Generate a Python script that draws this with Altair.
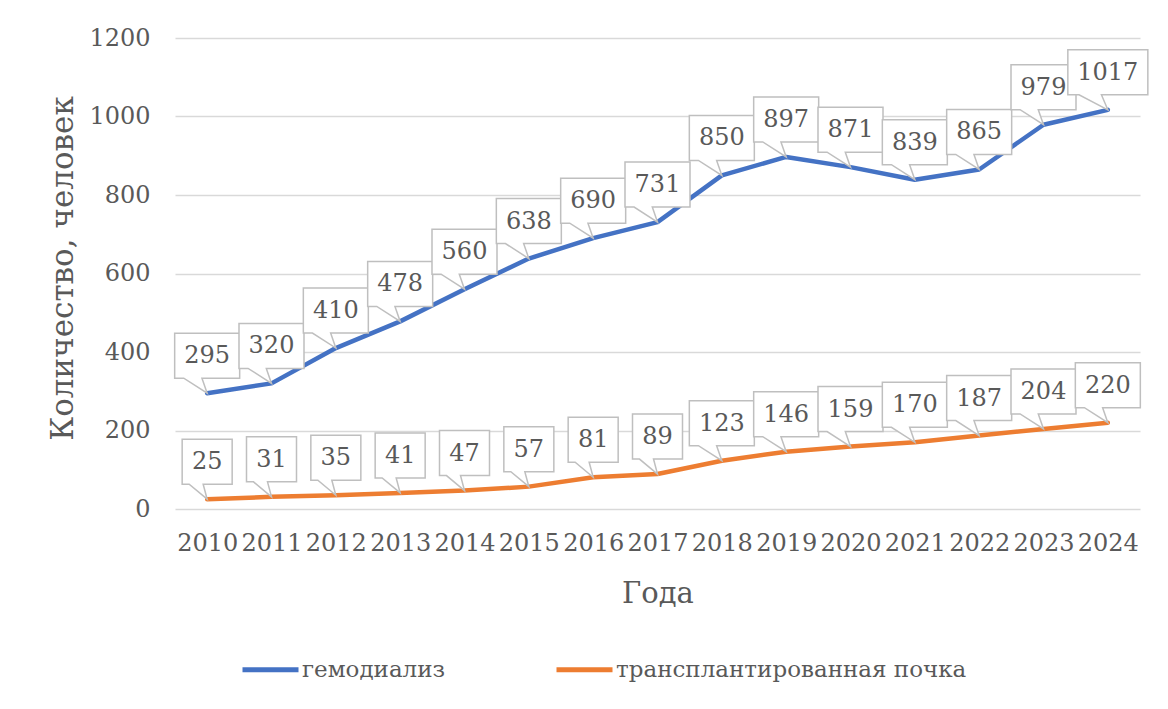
import altair as alt
import pandas as pd

years = [str(y) for y in range(2010, 2025)]
hemodialysis = [295, 320, 410, 478, 560, 638, 690, 731, 850, 897, 871, 839, 865, 979, 1017]
transplant = [25, 31, 35, 41, 47, 57, 81, 89, 123, 146, 159, 170, 187, 204, 220]
series_names = ["гемодиализ", "трансплантированная почка"]
series_colors = ["#4472C4", "#ED7D31"]

rows = []
for name, vals in zip(series_names, [hemodialysis, transplant]):
    for y, v in zip(years, vals):
        rows.append({"year": y, "value": v, "series": name})
df = pd.DataFrame(rows)


def callout(w):
    h = w / 2
    l = -0.36 * w
    r = -0.08 * w
    return (f"M {-h} -60 L {h} -60 L {h} -15 L {r} -15 L 0 0 L {l} -15 "
            f"L {-h} -15 Z")


paths = {2: callout(50), 3: callout(65), 4: callout(80)}
df["label"] = df["value"].astype(str)
df["shape"] = df["label"].str.len().map(paths)

FONT = "DejaVu Serif"
GREY = "#595959"

x_enc = alt.X("year:O", scale=alt.Scale(type="point", padding=0.5),
              axis=alt.Axis(title="Года", labelAngle=0, labelFontSize=24,
                            labelColor=GREY, labelPadding=22, ticks=False,
                            domain=False, grid=False, titleFontSize=29,
                            titleFontWeight="normal", titleColor=GREY,
                            titleY=93, titleBaseline="alphabetic",
                            labelFont=FONT, titleFont=FONT))
y_enc = alt.Y("value:Q", scale=alt.Scale(domain=[0, 1200], nice=False),
              axis=alt.Axis(title="Количество, человек", values=[0, 200, 400, 600, 800, 1000, 1200],
                            format="d",
                            labelFontSize=24, labelColor=GREY, labelPadding=25,
                            ticks=False, domain=False, grid=True,
                            gridColor="#D9D9D9", gridWidth=1.5,
                            titleFontSize=31, titleFontWeight="normal",
                            titleColor=GREY, titleAngle=270, titleX=-112,
                            titleY=230, titleBaseline="middle",
                            titleAlign="center", labelFont=FONT, titleFont=FONT))

color_enc = alt.Color("series:N",
                      scale=alt.Scale(domain=series_names, range=series_colors),
                      legend=alt.Legend(title=None, orient="none", legendX=65,
                                        legendY=601, direction="horizontal",
                                        symbolType="stroke", symbolSize=3136,
                                        symbolStrokeWidth=5, labelFontSize=23,
                                        labelColor=GREY, labelOffset=1,
                                        labelLimit=600,
                                        columnPadding=100, labelFont=FONT))

frame = alt.Chart(alt.Data(values=[{}])).mark_rect(
    fill=None, stroke="#D9D9D9", strokeWidth=2
).encode(x=alt.value(-168), x2=alt.value(2000), y=alt.value(-31), y2=alt.value(2000))

base = alt.Chart(df)

lines = base.mark_line(strokeWidth=4.5, strokeCap="round", strokeJoin="round").encode(
    x=x_enc, y=y_enc, color=color_enc, detail="series:N"
)

boxes = base.mark_point(filled=True, fill="white", stroke="#BFBFBF",
                        strokeWidth=1.5, size=4, opacity=1).encode(
    x=x_enc, y=y_enc, shape=alt.Shape("shape:N", scale=None)
)

labels = base.mark_text(fontSize=24, font=FONT, color=GREY, dy=-37,
                        baseline="middle", align="center").encode(
    x=x_enc, y=y_enc, text="label:N"
)

chart = alt.layer(frame, lines, boxes, labels).properties(
    width=965, height=471,
    autosize=alt.AutoSizeParams(type="none"),
    padding={"left": 167, "top": 30, "right": 20, "bottom": 192},
).configure(font=FONT).configure_view(stroke=None)

chart.save("out.html", embed_options={"renderer": "svg", "actions": False})
